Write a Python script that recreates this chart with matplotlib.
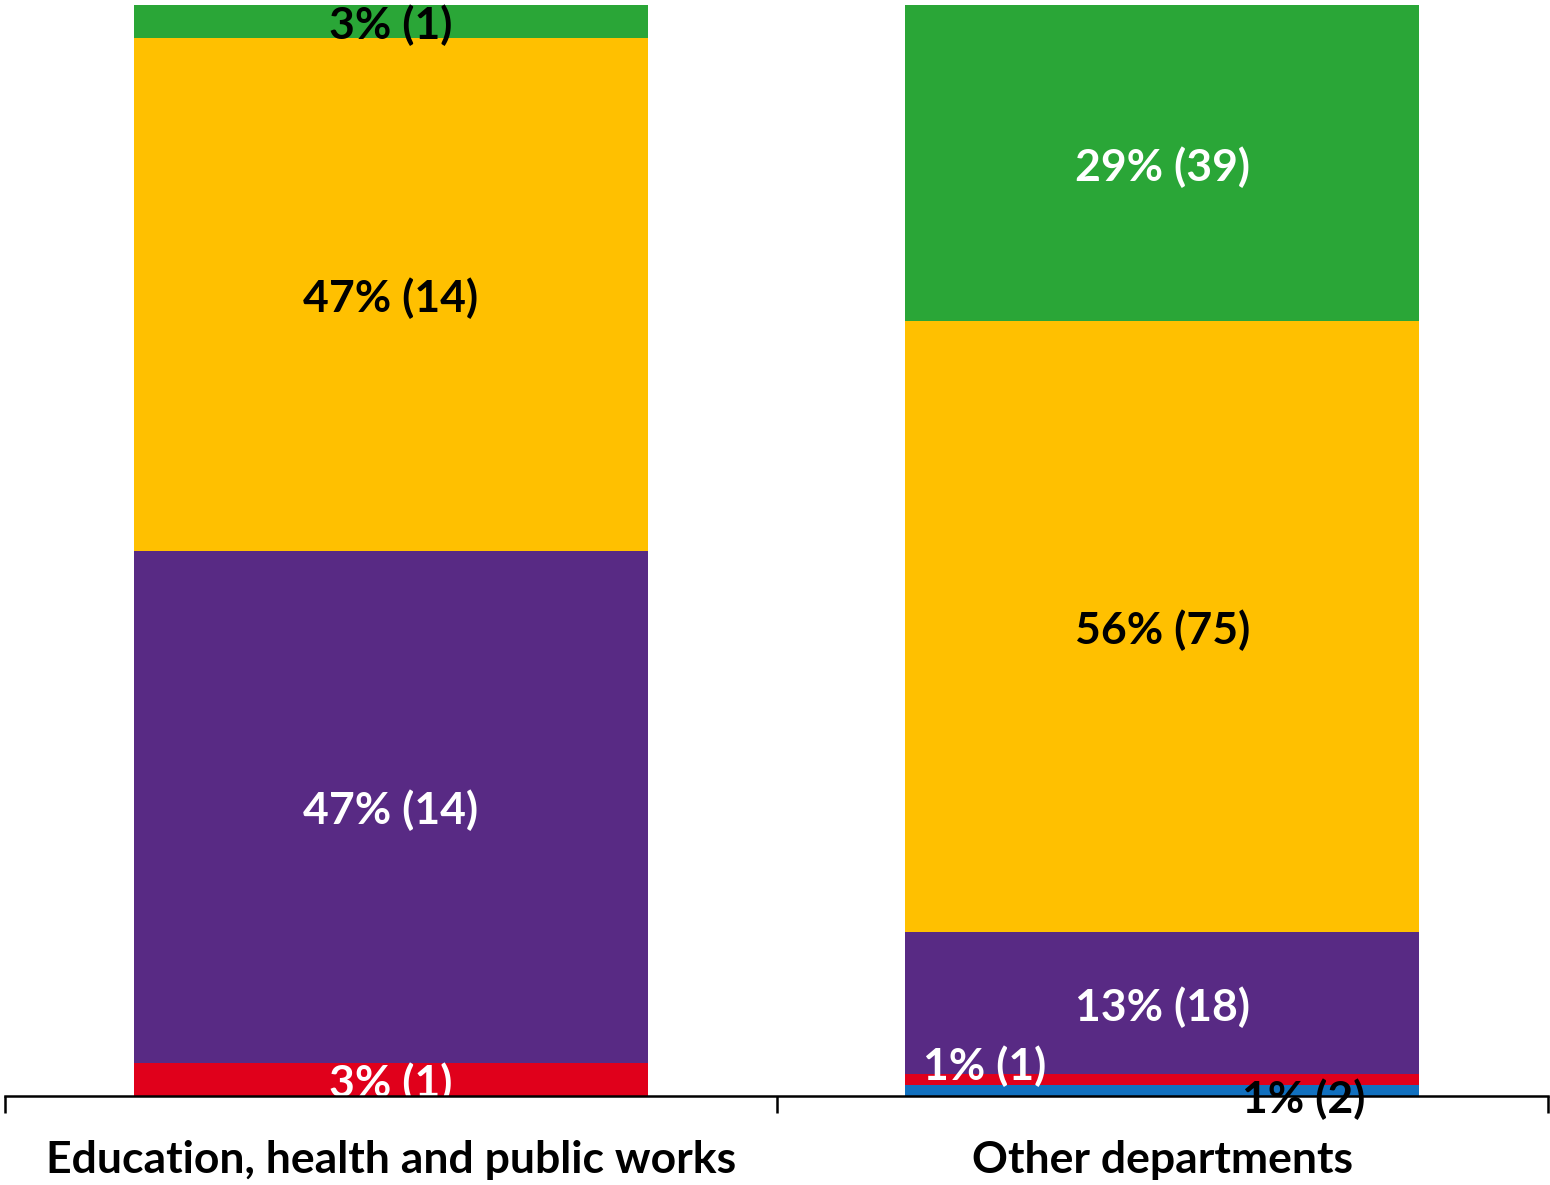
import matplotlib
matplotlib.use("Agg")
import matplotlib.pyplot as plt
import numpy as np

categories = ["Education, health and public works", "Other departments"]
series_names = ["Blue", "Red", "Purple", "Yellow", "Green"]
colors = ["#1170BF", "#E0001B", "#582A84", "#FFC000", "#2AA637"]
# percentages (bar heights) per series, per category
pct = {
    "Blue":   [0, 1],
    "Red":    [3, 1],
    "Purple": [47, 13],
    "Yellow": [47, 56],
    "Green":  [3, 29],
}
counts = {
    "Blue":   [0, 2],
    "Red":    [1, 1],
    "Purple": [14, 18],
    "Yellow": [14, 75],
    "Green":  [1, 39],
}
label_colors = {
    "Blue": "black", "Red": "white", "Purple": "white", "Yellow": "black", "Green": None,
}

plt.rcParams['font.family'] = ['Lato', 'DejaVu Sans']
fig = plt.figure(figsize=(15.5, 11.85), dpi=100)
ax = fig.add_axes([5/1550, 1 - 1096/1185, 1543/1550, (1096 - 5)/1185])

x = np.arange(len(categories))
bottom = np.zeros(len(categories))
fs = 32
for name, col in zip(series_names, colors):
    vals = np.array(pct[name], dtype=float)
    ax.bar(x, vals, width=0.666, bottom=bottom, color=col, zorder=2)
    for i in range(len(categories)):
        if counts[name][i] == 0:
            continue
        text = f"{pct[name][i]}% ({counts[name][i]})"
        cx = x[i]
        cy = bottom[i] + vals[i] / 2 - 0.35
        tc = label_colors[name]
        if name == "Green":
            tc = "black" if i == 0 else "white"
        dx, dy = 0, 0
        if name == "Red" and i == 1:
            dx, dy = -0.23, 1.6
        if name == "Blue" and i == 1:
            dx, dy = 0.183, -0.45
        ax.text(cx + dx, cy + dy, text, ha="center", va="center", color=tc,
                fontsize=fs, fontweight="bold", zorder=3)
    bottom += vals

ax.set_xlim(-0.5, 1.5)
ax.set_ylim(0, 100)
for s in ["top", "right", "left"]:
    ax.spines[s].set_visible(False)
ax.spines["bottom"].set_linewidth(1.8)
ax.spines["bottom"].set_zorder(4)
ax.set_yticks([])
ax.set_xticks(x)
ax.set_xticklabels(categories, fontsize=fs, fontweight="bold")
ax.tick_params(axis="x", which="major", length=0, pad=32)
ax.set_xticks([-0.5, 0.5, 1.5], minor=True)
ax.tick_params(axis="x", which="minor", length=12, width=1.8, direction="out")
fig.savefig("out.png", dpi=100)
